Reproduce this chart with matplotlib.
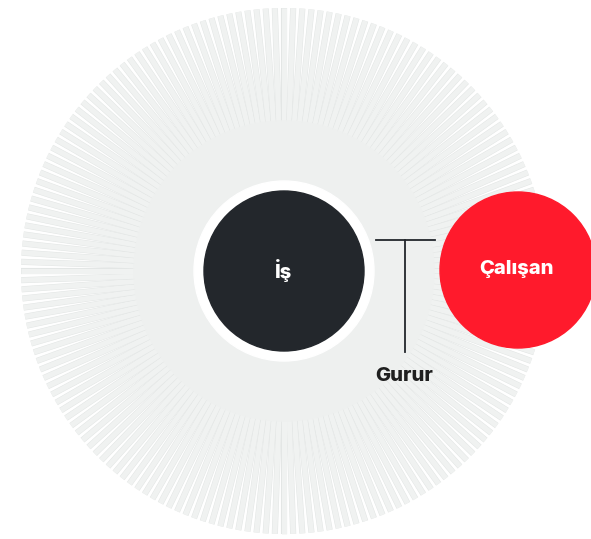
import numpy as np
import matplotlib.pyplot as plt
from matplotlib.patches import Circle

plt.rcParams['font.family'] = ['Inter', 'DejaVu Sans']

# spokes of the sunburst background
n_spokes = 180
spoke_angles = np.arange(n_spokes) * 360.0 / n_spokes
spoke_outer = 263

center_label = 'İş'
side_label = 'Çalışan'
link_label = 'Gurur'

cx, cy = 284, 271

fig = plt.figure(figsize=(5.91, 5.39), dpi=100)
ax = fig.add_axes([0, 0, 1, 1])
ax.set_xlim(0, 591)
ax.set_ylim(539, 0)
ax.set_aspect('equal')
ax.axis('off')

for a in spoke_angles:
    t = np.deg2rad(a)
    xs = [cx, cx + spoke_outer * np.cos(t)]
    ys = [cy, cy + spoke_outer * np.sin(t)]
    ax.plot(xs, ys, color='#e3e6e5', lw=4.4, solid_capstyle='butt', zorder=1)
    ax.plot(xs, ys, color='#f0f2f1', lw=3.7, solid_capstyle='butt', zorder=1)

ax.add_patch(Circle((cx, cy), 150, color='#eef0ef', zorder=2))
ax.add_patch(Circle((cx, cy), 90, color='white', zorder=3))
ax.add_patch(Circle((cx, cy), 80, color='#23272c', zorder=4))
ax.add_patch(Circle((518, 270), 78, color='#ff1a2c', zorder=4))

ax.plot([376, 435], [240, 240], color='#23272c', lw=1.3, zorder=5)
ax.plot([405, 405], [240, 352], color='#23272c', lw=1.3, zorder=5)

ax.text(cx, 271, center_label, color='white', fontsize=14.5, fontweight='heavy',
        ha='center', va='center', zorder=6)
ax.text(516, 269, side_label, color='white', fontsize=14.5, fontweight='heavy',
        ha='center', va='center', zorder=6)
ax.text(404, 376, link_label, color='#1f1f1f', fontsize=14.5, fontweight='heavy',
        ha='center', va='center', zorder=6)

fig.savefig('out.png', dpi=100)
